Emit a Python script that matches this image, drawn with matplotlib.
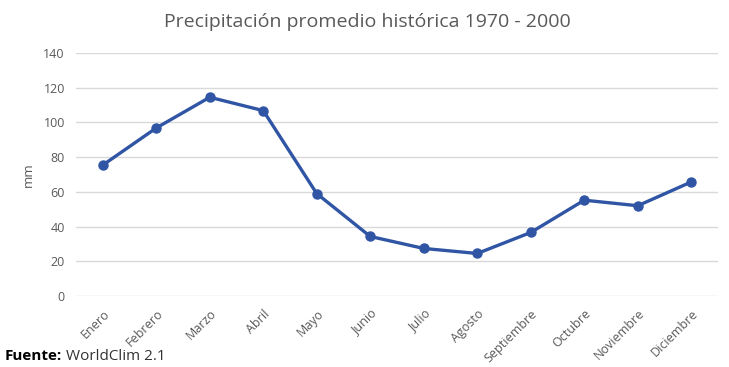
import matplotlib.pyplot as plt
import numpy as np

# monthly precipitation, mm
meses = ['Enero', 'Febrero', 'Marzo', 'Abril', 'Mayo', 'Junio', 'Julio',
         'Agosto', 'Septiembre', 'Octubre', 'Noviembre', 'Diciembre']
precip = [75.4, 96.8, 114.5, 106.8, 59.0, 34.3, 27.4, 24.5, 36.6, 55.2, 52.0, 65.7]
yticks = [0, 20, 40, 60, 80, 100, 120, 140]

plt.rcParams['font.family'] = ['Open Sans', 'DejaVu Sans']

fig = plt.figure(figsize=(7.29, 3.67), dpi=100)
ax = fig.add_axes([76/729, 1 - 296/367, 642/729, 243/367])

x = np.arange(len(meses))
ax.plot(x, precip, color='#2f55a4', lw=2.4, marker='o', ms=6.5, zorder=3)

ax.set_xlim(-0.5, len(meses) - 0.5)
ax.set_ylim(0, 140)
ax.set_yticks(yticks)
ax.set_xticks(x)
ax.set_xticklabels(meses, rotation=45, ha='right', rotation_mode='anchor')
ax.tick_params(length=0, labelsize=9, labelcolor='#595959', pad=8)
ax.grid(axis='y', color='#d9d9d9', lw=1)
ax.set_axisbelow(True)
for s in ax.spines.values():
    s.set_visible(False)

ax.set_ylabel('mm', fontsize=9.5, color='#595959', labelpad=6)
fig.text(0.5 * (167 + 568) / 729, 1 - 22/367, 'Precipitación promedio histórica 1970 - 2000',
         ha='center', va='center', fontsize=14, color='#595959')

# source note
t = fig.text(5/729, 1 - 356/367, 'Fuente:', fontsize=11, weight='bold', color='black', va='center')
fig.canvas.draw()
bb = t.get_window_extent()
fig.text(bb.x1 / 729 + 4/729, 1 - 356/367, 'WorldClim 2.1', fontsize=11, color='#333333', va='center')

plt.savefig('out.png', dpi=100)
